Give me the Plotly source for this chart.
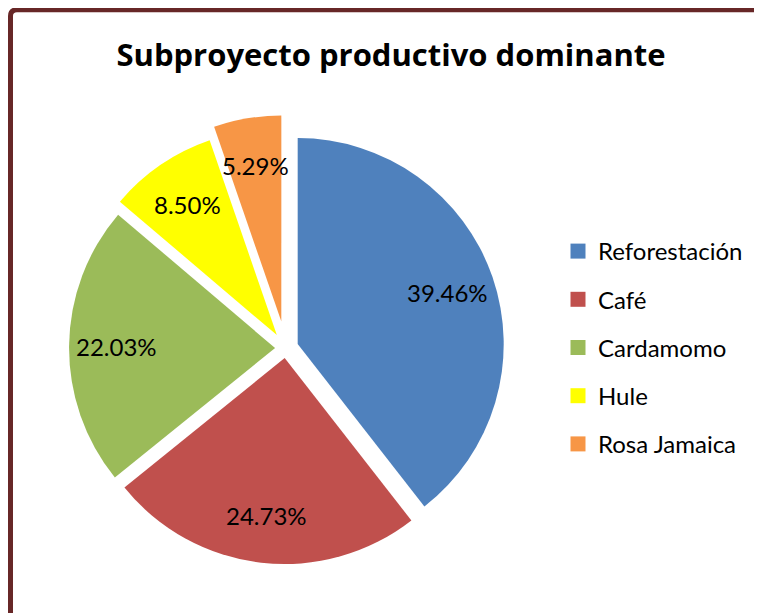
import math
import plotly.graph_objects as go

categories = ["Reforestación", "Café", "Cardamomo", "Hule", "Rosa Jamaica"]
percentages = [39.46, 24.73, 22.03, 8.50, 5.29]
colors = ["#4F81BD", "#C0504D", "#9BBB59", "#FFFF00", "#F79646"]
pulls = [0.061, 0.048, 0.052, 0.077, 0.131]

W, H = 762, 613
OFF = 8  # page body margin: figure starts 8px inside the window


def px(x):
    return (x - OFF) / W


def py(y):
    return 1 - (y - OFF) / H


# pie box in window pixels
PX0, PX1, PY0, PY1 = 52.8, 518.8, 115.2, 581.2

fig = go.Figure()
fig.add_trace(go.Pie(
    labels=categories,
    values=percentages,
    sort=False,
    direction="clockwise",
    rotation=0,
    pull=pulls,
    marker=dict(colors=colors, line=dict(width=0)),
    textinfo="none",
    domain=dict(x=[px(PX0), px(PX1)], y=[py(PY1), py(PY0)]),
    showlegend=False,
    hoverinfo="label+percent",
))

# data labels: placed along each slice's bisector (same geometry plotly uses)
cx, cy = (PX0 + PX1) / 2, (PY0 + PY1) / 2
R = min(PX1 - PX0, PY1 - PY0) / (2 * (1 + max(pulls)))
LABEL_FRAC = 0.77
total = sum(percentages)
cum = 0.0
annotations = []
for v, p in zip(percentages, pulls):
    mid = 2 * math.pi * (cum + v / 2) / total
    cum += v
    d = (p + LABEL_FRAC) * R
    annotations.append(dict(
        x=px(cx + d * math.sin(mid)), y=py(cy - d * math.cos(mid)),
        xref="paper", yref="paper", showarrow=False,
        text=f"{v:.2f}%", xanchor="center", yanchor="middle",
        font=dict(family="Lato", size=24, color="black"),
    ))

# legend swatches built from the category list
for name, col in zip(categories, colors):
    fig.add_trace(go.Scatter(
        x=[None], y=[None], mode="markers", name=name, legendgroup=name,
        marker=dict(symbol="square", size=15, color=col),
    ))

fig.update_layout(
    width=W, height=H,
    margin=dict(l=0, r=0, t=0, b=0),
    paper_bgcolor="white", plot_bgcolor="white",
    xaxis=dict(visible=False), yaxis=dict(visible=False),
    title=dict(
        text="<b>Subproyecto productivo dominante</b>",
        font=dict(family="Open Sans", size=31, color="black"),
        x=px(391), xanchor="center", y=py(55), yanchor="middle",
    ),
    legend=dict(
        x=px(558), xanchor="left", y=py(229), yanchor="top",
        font=dict(family="Lato", size=24, color="black"),
        tracegroupgap=14, bgcolor="rgba(0,0,0,0)",
    ),
    annotations=annotations,
    shapes=[dict(
        type="path", xref="paper", yref="paper",
        path="M {x0},{y0} L {x0},{y1} Q {x0},{yt} {x2},{yt} L {x3},{yt}".format(
            x0=px(10.5), y0=-0.1, y1=py(16), yt=py(9.8),
            x2=px(17), x3=1.1),
        line=dict(color="#672727", width=5),
    )],
)

fig.write_html("out.html")
